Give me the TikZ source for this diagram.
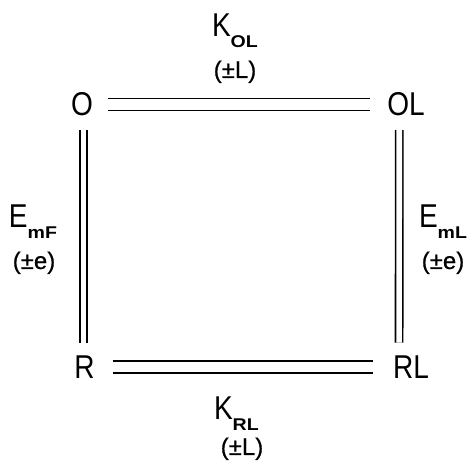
\documentclass[tikz,border=0pt]{standalone}
\usepackage{fontspec}
\setmainfont[FakeStretch=0.85]{Liberation Sans}
\newfontfamily\plainlbl[FakeBold=0.6]{Liberation Sans}
\newfontfamily\subfont[FakeStretch=1.15]{Liberation Sans}
\newcommand\lblsub[1]{\raisebox{-11pt}{\subfont\fontsize{17}{17}\selectfont\bfseries #1}}
\begin{document}
\begin{tikzpicture}[x=1pt,y=-1pt,
  state/.style={inner sep=0pt,outer sep=0pt,font=\fontsize{33}{33}\selectfont},
  lbl/.style={inner sep=0pt,outer sep=0pt,font=\fontsize{33}{33}\selectfont},
  cond/.style={inner sep=0pt,outer sep=0pt,font=\plainlbl\fontsize{24}{24}\selectfont},
  hlink/.style={draw,line width=1.6pt,double=white,double distance=10.5pt},
  vlink/.style={draw,line width=1.6pt,double=white,double distance=5.6pt}]
\useasboundingbox (0,0) rectangle (469,462);
\node[state] (O)  at (82,104.5) {O};
\node[state] (OL) at (406,104.5) {OL};
\node[state] (R)  at (84.5,367) {R};
\node[state] (RL) at (411,367) {RL};
% connectors
\path[hlink,shorten <=15pt,shorten >=17pt] (O) -- (OL);
\path[hlink,shorten <=18pt,shorten >=20pt] (R) -- (RL);
\path[vlink,shorten <=14pt,shorten >=13pt] ([xshift=1.5pt]O.south) -- ([xshift=-1pt]R.north);
\path[vlink,shorten <=14pt,shorten >=13pt] ([xshift=12pt]OL.south west) -- ([xshift=6pt]RL.north west);
% labels
\node[lbl,anchor=base west] (kol) at (212,37) {K\lblsub{OL}};
\node[cond,anchor=base] (kolc) at (235,78) {(±L)};
\node[lbl,anchor=base west] (emf) at (9,228) {E\lblsub{mF}};
\node[cond,anchor=base] (emfc) at (34,269) {(±e)};
\node[lbl,anchor=base west] (eml) at (419,228) {E\lblsub{mL}};
\node[cond,anchor=base] (emlc) at (443,269) {(±e)};
\node[lbl,anchor=base west] (krl) at (214,420) {K\lblsub{RL}};
\node[cond,anchor=base] (krlc) at (242,455) {(±L)};
\end{tikzpicture}
\end{document}
